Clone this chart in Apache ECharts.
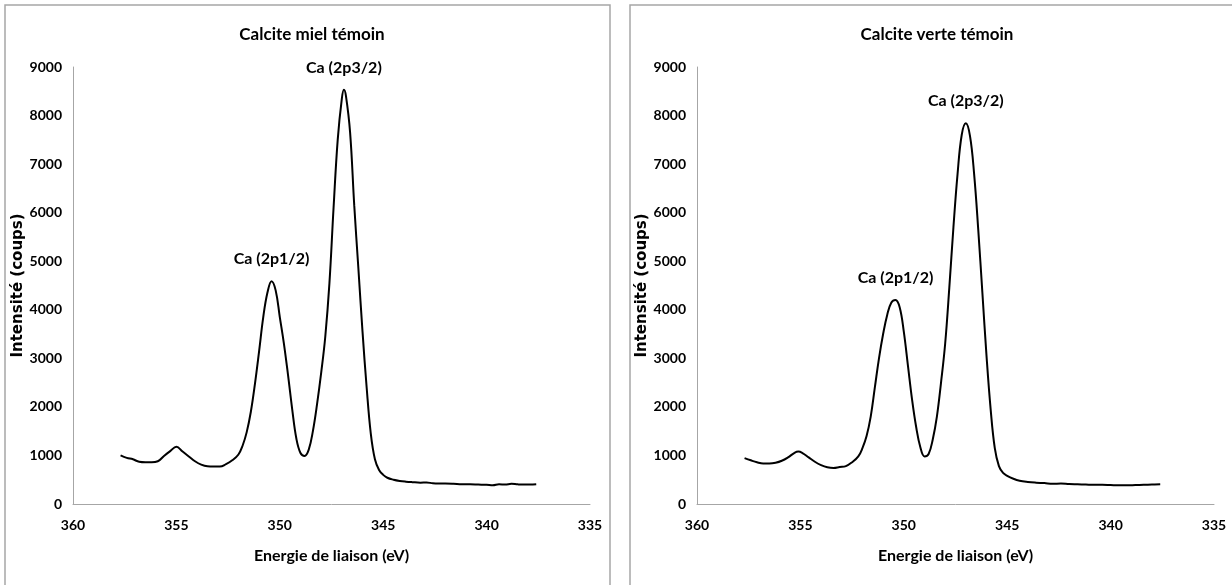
<!DOCTYPE html>
<html>
<head>
<meta charset="utf-8">
<script src="https://cdn.jsdelivr.net/npm/echarts@6/dist/echarts.min.js"></script>
<style>
html,body{margin:0;padding:0;background:#fff;}
#c{width:1232px;height:585px;}
</style>
</head>
<body>
<div id="c"></div>
<script>
// ---- data ----
const titles = ['Calcite miel témoin', 'Calcite verte témoin'];
const xAxisTitle = 'Energie de liaison (eV)';
const yAxisTitle = 'Intensité (coups)';
const xTicks = [360, 355, 350, 345, 340, 335];
const yTicks = [0, 1000, 2000, 3000, 4000, 5000, 6000, 7000, 8000, 9000];

const energyMiel = [357.7,357.4,357.1,356.8,356.5,356.2,355.9,355.6,355.3,355.0,354.7,354.4,354.1,353.8,353.5,353.2,352.9,352.6,352.3,352.0,351.8,351.6,351.4,351.2,351.0,350.8,350.6,350.4,350.2,350.0,349.8,349.6,349.4,349.2,349.0,348.8,348.6,348.4,348.2,348.0,347.8,347.6,347.4,347.2,347.0,346.9,346.8,346.6,346.4,346.2,346.0,345.8,345.6,345.4,345.2,345.0,344.8,344.5,344.2,343.9,343.6,343.2,342.9,342.6,342.3,342.0,341.6,341.2,340.8,340.4,340.0,339.7,339.4,339.1,338.8,338.5,338.2,337.9,337.6];
const intensityMiel = [1000,950,920,870,860,860,880,990,1090,1180,1080,980,880,810,775,770,770,820,900,1020,1200,1480,1900,2480,3150,3850,4350,4590,4400,3850,3300,2650,1950,1350,1050,990,1120,1500,2050,2700,3450,4550,6100,7500,8350,8530,8400,7650,6150,4850,3550,2400,1450,920,700,600,540,500,475,460,450,440,445,425,420,420,415,405,405,400,395,385,405,400,415,405,400,400,405];

const energyVerte = [357.7,357.4,357.1,356.8,356.5,356.2,355.9,355.6,355.3,355.1,354.9,354.6,354.3,354.0,353.7,353.4,353.1,352.8,352.5,352.2,352.0,351.8,351.6,351.4,351.2,351.0,350.8,350.6,350.4,350.2,350.0,349.8,349.6,349.4,349.2,349.0,348.8,348.6,348.4,348.2,348.0,347.8,347.6,347.4,347.2,347.0,346.8,346.6,346.4,346.2,346.0,345.8,345.6,345.4,345.2,345.0,344.7,344.4,344.0,343.6,343.2,342.8,342.4,342.0,341.6,341.2,340.8,340.4,340.0,339.6,339.2,338.8,338.4,338.0,337.6];
const intensityVerte = [945,900,860,835,835,850,890,960,1050,1080,1050,960,870,800,755,740,760,780,860,980,1150,1400,1800,2400,3000,3500,3900,4150,4200,4050,3550,2850,2150,1580,1170,980,1030,1330,1800,2500,3300,4450,5700,6800,7600,7840,7580,6800,5650,4350,3050,1950,1150,780,640,580,520,480,455,440,430,415,420,410,405,400,395,395,390,385,385,390,395,400,405];

const peakNames = ['Ca (2p1/2)', 'Ca (2p3/2)'];
const peakEnergyMiel = [350.4, 346.9];
const peakIntensityMiel = [4590, 8530];
const peakEnergyVerte = [350.4, 347.0];
const peakIntensityVerte = [4200, 7840];

// ---- chart ----
const narrow = "Lato,'Liberation Sans',sans-serif";
const chart = echarts.init(document.getElementById('c'), null, {renderer:'canvas'});

const gridLefts = [73, 697];
const gridW = 517, gridTop = 67, gridH = 437;
const panelLefts = [5, 630];

function xAxisFor(i){
  return {
    gridIndex:i, type:'value', inverse:true, min:xTicks[xTicks.length-1], max:xTicks[0], interval:5,
    axisLine:{show:true, lineStyle:{color:'#a6a6a6', width:1}},
    axisTick:{show:false}, splitLine:{show:false},
    axisLabel:{color:'#000', fontFamily:narrow, fontWeight:'bold', fontSize:14, margin:14,
      formatter:v=>String(v)},
    name:xAxisTitle, nameLocation:'middle', nameGap:44,
    nameTextStyle:{color:'#000', fontFamily:narrow, fontWeight:'bold', fontSize:16}
  };
}
function yAxisFor(i){
  return {
    gridIndex:i, type:'value', min:yTicks[0], max:yTicks[yTicks.length-1], interval:1000,
    axisLine:{show:true, lineStyle:{color:'#a6a6a6', width:1}},
    axisTick:{show:false}, splitLine:{show:false},
    axisLabel:{color:'#000', fontFamily:narrow, fontWeight:'bold', fontSize:14, margin:11,
      formatter:v=>String(v)},
    name:yAxisTitle, nameLocation:'middle', nameGap:47, nameRotate:90,
    nameTextStyle:{color:'#000', fontFamily:"'DejaVu Sans',sans-serif", fontWeight:'bold', fontSize:15}
  };
}
function lineSeries(i, xs, ys){
  return {
    type:'line', xAxisIndex:i, yAxisIndex:i, showSymbol:false, symbol:'none',
    smooth:0.4,
    lineStyle:{color:'#000', width:2},
    data: xs.map((x,k)=>[x, ys[k]]), silent:true, z:3
  };
}
function labelSeries(i, xs, ys){
  return {
    type:'scatter', xAxisIndex:i, yAxisIndex:i, symbolSize:0,
    itemStyle:{color:'#000', opacity:1},
    label:{show:true, position:'top', distance:14, formatter:p=>p.data[2],
      color:'#000', textBorderWidth:0, fontFamily:narrow, fontWeight:'bold', fontSize:16},
    data: xs.map((x,k)=>[x, ys[k], peakNames[k]]), silent:true, z:4
  };
}

chart.setOption({
  backgroundColor:'#fff',
  animation:false,
  title: titles.map((t,i)=>({
    text:t, left: panelLefts[i] + 302, top:21, textAlign:'center',
    textStyle:{color:'#000', fontFamily:narrow, fontWeight:'bold', fontSize:17}
  })),
  graphic: panelLefts.map(l=>({
    type:'rect', shape:{x:l, y:5, width:605, height:620}, silent:true, z:-1,
    style:{fill:'#fff', stroke:'#a6a6a6', lineWidth:1.5}
  })),
  grid: gridLefts.map(l=>({left:l, top:gridTop, width:gridW, height:gridH, containLabel:false})),
  xAxis: [xAxisFor(0), xAxisFor(1)],
  yAxis: [yAxisFor(0), yAxisFor(1)],
  series: [
    lineSeries(0, energyMiel, intensityMiel),
    lineSeries(1, energyVerte, intensityVerte),
    labelSeries(0, peakEnergyMiel, peakIntensityMiel),
    labelSeries(1, peakEnergyVerte, peakIntensityVerte)
  ]
});
</script>
</body>
</html>
